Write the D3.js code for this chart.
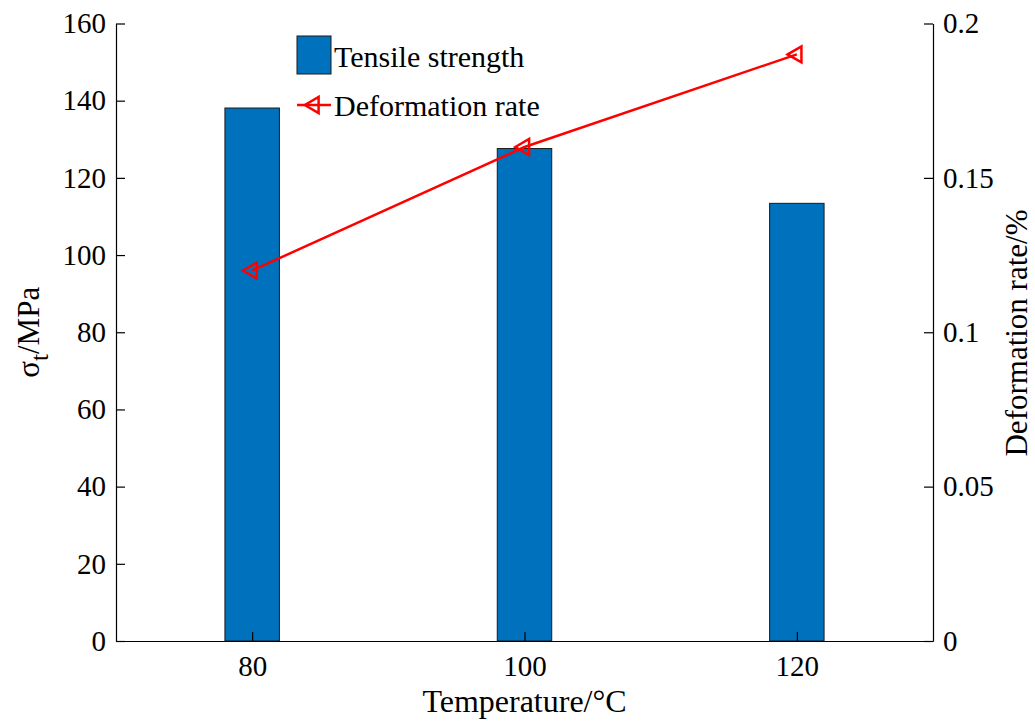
<!DOCTYPE html>
<html>
<head>
<meta charset="utf-8">
<script src="https://cdn.jsdelivr.net/npm/d3@7"></script>
<style>
  body { margin: 0; background: #fff; }
  svg text { font-family: "Liberation Serif", "Times New Roman", serif; fill: #000; }
</style>
</head>
<body>
<div id="chart"></div>
<script>
// data
var temperatures = [80, 100, 120];
var tensileStrength = [138.1, 127.6, 113.4];
var deformationRate = [0.12, 0.16, 0.19];
var leftTicks = [0, 20, 40, 60, 80, 100, 120, 140, 160];
var rightTicks = [0, 0.05, 0.1, 0.15, 0.2];

var width = 1035, height = 722;
var margin = { top: 23.5, right: 102, bottom: 81, left: 116 };
var innerW = width - margin.left - margin.right;
var innerH = height - margin.top - margin.bottom;

var svg = d3.select('#chart').append('svg')
    .attr('width', width)
    .attr('height', height);

var g = svg.append('g')
    .attr('transform', 'translate(' + margin.left + ',' + margin.top + ')');

var x = d3.scaleLinear().domain([70, 130]).range([0, innerW]);
var yL = d3.scaleLinear().domain([0, 160]).range([innerH, 0]);
var yR = d3.scaleLinear().domain([0, 0.2]).range([innerH, 0]);

var barW = x(74) - x(70);
var tickFont = 29;

// bars
g.selectAll('.bar')
    .data(temperatures)
    .enter()
    .append('rect')
    .attr('class', 'bar')
    .attr('x', function(d) { return x(d) - barW / 2; })
    .attr('y', function(d, i) { return yL(tensileStrength[i]); })
    .attr('width', barW)
    .attr('height', function(d, i) { return innerH - yL(tensileStrength[i]); })
    .attr('fill', '#0072BD')
    .attr('stroke', '#1a1a1a')
    .attr('stroke-width', 1);

// axes (ticks pointing inward)
function styleAxis(sel) {
    sel.select('.domain').attr('stroke', '#000').attr('stroke-width', 1.2);
    sel.selectAll('.tick line').attr('stroke', '#000').attr('stroke-width', 1.2);
    sel.selectAll('.tick text').style('font-size', tickFont + 'px');
}

var xAxis = g.append('g')
    .attr('transform', 'translate(0,' + innerH + ')')
    .call(d3.axisBottom(x).tickValues(temperatures).tickSize(-9).tickSizeOuter(0).tickPadding(14));
styleAxis(xAxis);

var leftAxis = g.append('g')
    .call(d3.axisLeft(yL).tickValues(leftTicks).tickSize(-9).tickSizeOuter(0).tickPadding(10));
styleAxis(leftAxis);

var rightAxis = g.append('g')
    .attr('transform', 'translate(' + innerW + ',0)')
    .call(d3.axisRight(yR).tickValues(rightTicks).tickSize(-9).tickSizeOuter(0).tickPadding(10)
        .tickFormat(function(d) { return d3.format('~g')(d); }));
styleAxis(rightAxis);

// deformation line
var line = d3.line()
    .x(function(d) { return x(d); })
    .y(function(d, i) { return yR(deformationRate[i]); });

g.append('path')
    .datum(temperatures)
    .attr('d', line)
    .attr('fill', 'none')
    .attr('stroke', '#ff0000')
    .attr('stroke-width', 2.5);

var tri = d3.symbol().type(d3.symbolTriangle).size(110);

g.selectAll('.marker')
    .data(temperatures)
    .enter()
    .append('path')
    .attr('class', 'marker')
    .attr('d', tri)
    .attr('transform', function(d, i) {
        return 'translate(' + x(d) + ',' + yR(deformationRate[i]) + ') rotate(-90)';
    })
    .attr('fill', 'none')
    .attr('stroke', '#ff0000')
    .attr('stroke-width', 2.5);

// axis titles
svg.append('text')
    .attr('x', margin.left + innerW / 2)
    .attr('y', 712)
    .attr('text-anchor', 'middle')
    .style('font-size', '32px')
    .text('Temperature/°C');

var ylab = svg.append('text')
    .attr('transform', 'translate(39,' + (margin.top + innerH / 2) + ') rotate(-90)')
    .attr('text-anchor', 'middle')
    .style('font-size', '31px');
ylab.append('tspan').text('σ');
ylab.append('tspan').attr('dy', 9).style('font-size', '25px').text('t');
ylab.append('tspan').attr('dy', -9).text('/MPa');

svg.append('text')
    .attr('transform', 'translate(1027,333) rotate(-90)')
    .attr('text-anchor', 'middle')
    .style('font-size', '31px')
    .text('Deformation rate/%');

// legend
var legend = svg.append('g').attr('transform', 'translate(297,36)');
legend.append('rect')
    .attr('width', 34).attr('height', 38)
    .attr('fill', '#0072BD')
    .attr('stroke', '#1a1a1a');
legend.append('text')
    .attr('x', 37).attr('y', 20).attr('dy', '0.35em')
    .style('font-size', '30px')
    .text('Tensile strength');
legend.append('line')
    .attr('x1', 0).attr('x2', 34).attr('y1', 69).attr('y2', 69)
    .attr('stroke', '#ff0000').attr('stroke-width', 2.5);
legend.append('path')
    .attr('d', tri)
    .attr('transform', 'translate(17,69) rotate(-90)')
    .attr('fill', 'none')
    .attr('stroke', '#ff0000')
    .attr('stroke-width', 2.5);
legend.append('text')
    .attr('x', 37).attr('y', 69).attr('dy', '0.35em')
    .style('font-size', '30px')
    .text('Deformation rate');
</script>
</body>
</html>
